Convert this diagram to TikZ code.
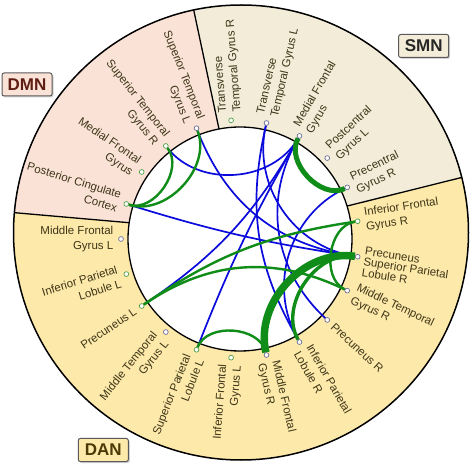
\documentclass[tikz,border=0pt]{standalone}
\usepackage{fontspec}
\setmainfont{Liberation Sans}
\usetikzlibrary{calc,shadows}
\definecolor{dmnfill}{RGB}{250,226,214}
\definecolor{smnfill}{RGB}{242,236,216}
\definecolor{danfill}{RGB}{253,233,170}
\definecolor{dmntext}{RGB}{95,30,20}
\definecolor{dantext}{RGB}{75,58,5}
\definecolor{linkblue}{RGB}{10,10,220}
\definecolor{linkgreen}{RGB}{16,140,24}
\definecolor{roitext}{RGB}{62,54,24}
\definecolor{roigreen}{RGB}{80,160,70}
\definecolor{roislate}{RGB}{110,110,150}
\pgfdeclarelayer{ring}
\pgfdeclarelayer{links}
\pgfsetlayers{ring,links,main}
\tikzset{%
  roi/.style={circle,draw=roigreen,fill=white,line width=0.7pt,inner sep=0pt,minimum size=4.8pt},
  roib/.style={roi,draw=roislate},
  lbl/.style={font=\fontsize{11.5}{14.5}\selectfont,text=roitext,inner sep=1pt},
  rlab/.style={rotate=#1,anchor=west,align=left},
  llab/.style={rotate=#1+180,anchor=east,align=right},
  net/.style={draw=black!65,line width=1pt,rounded corners=2pt,minimum width=50pt,minimum height=23pt,inner sep=0pt,
    font=\fontsize{17}{18}\selectfont\bfseries,drop shadow={shadow xshift=1.5pt,shadow yshift=-1.5pt,opacity=0.35}},
  link/.style={draw=linkblue,line width=1.7pt},
  bond/.style={draw=linkgreen,line width=2.4pt},
  bondw/.style={bond,line width=3.4pt},
  bondx/.style={bond,line width=5pt},
  bondxx/.style={bond,line width=7.5pt},
}

\begin{document}
\begin{tikzpicture}[x=1pt,y=1pt]
  \useasboundingbox (0,0) rectangle (474,466);
  \coordinate (o) at (241,233.5); % ring centre
  \coordinate (c) at (240,227);   % chord centre

  % network sectors
  \begin{pgfonlayer}{ring}
    \fill[dmnfill] (o) -- ++(102:227.5) arc[start angle=102,end angle=175,radius=227.5] -- cycle;
    \fill[smnfill] (o) -- ++(14:227.5) arc[start angle=14,end angle=102,radius=227.5] -- cycle;
    \fill[danfill] (o) -- ++(175:227.5) arc[start angle=175,end angle=374,radius=227.5] -- cycle;
    \foreach \b in {14,102,175} \draw[line width=1.3pt] (o) -- ++(\b:227.5);
    \draw[line width=1.5pt] (o) circle[radius=227.5];
    \draw[line width=1.3pt,fill=white] (c) circle[radius=112];
  \end{pgfonlayer}

  \node[net,fill=dmnfill,text=dmntext] (dmn) at (27,381.5) {DMN};
  \node[net,fill=smnfill,text=black!85] (smn) at (423.7,420) {SMN};
  \node[net,fill=danfill,text=dantext] (dan) at (103.3,16) {DAN};

  % regions
  \foreach \k/\s/\r/\t in {0/llab/roib/{Middle Frontal\\Gyrus L},
      1/llab/roi/{Posterior Cingulate\\Cortex}, 2/llab/roi/{Medial Frontal\\Gyrus},
      3/llab/roi/{Superior Temporal\\Gyrus R}, 4/llab/roib/{Superior Temporal\\Gyrus L},
      5/rlab/roi/{Transverse\\Temporal Gyrus R}, 6/rlab/roib/{Transverse\\Temporal Gyrus L},
      7/rlab/roib/{Medial Frontal\\Gyrus}, 8/rlab/roib/{Postcentral\\Gyrus L},
      9/rlab/roib/{Precentral\\Gyrus R}, 10/rlab/roi/{Inferior Frontal\\Gyrus R},
      12/rlab/roib/{Middle Temporal\\Gyrus R}, 13/rlab/roib/{Precuneus R},
      14/rlab/roib/{Inferior Parietal\\Lobule R}, 15/rlab/roib/{Middle Frontal\\Gyrus R},
      16/llab/roi/{Inferior Frontal\\Gyrus L}, 17/llab/roi/{Superior Parietal\\Lobule L},
      18/llab/roib/{Middle Temporal\\Gyrus L}, 19/llab/roi/{Precuneus L},
      20/llab/roi/{Inferior Parietal\\Lobule L}}{
    \pgfmathsetmacro\a{180-\k*360/21}
    \path (c) ++(\a:119) node[\r] (n\k) {};
    \path (c) ++(\a:125.5) node[lbl,\s=\a] (t\k) {\t};
  }
  \path (c) ++(-8.5714:119) node[roib] (n11) {};
  \path (c) ++(-8.5714:124.5) ++(81.43:12) node[lbl,rlab=-8.5714,anchor=north west,font=\fontsize{11.5}{11}\selectfont] (t11)
    {Precuneus\\Superior Parietal\\Lobule R};

  % connections
  \begin{pgfonlayer}{links}
    \foreach \i/\j/\e in {1/11/link, 3/7/link, 4/11/link, 6/11/link, 7/13/link, 7/17/link, 7/19/link,
        9/14/link, 6/14/link, 1/3/bond, 1/4/bond, 10/19/bond, 10/12/bond, 12/19/bond, 15/17/bond,
        11/14/bondw, 7/9/bondx, 11/15/bondxx}{
      \pgfmathsetmacro\p{360-\i*360/21}
      \pgfmathsetmacro\q{360-\j*360/21}
      \draw[\e] (n\i) to[out=\p,in=\q] (n\j);
    }
  \end{pgfonlayer}
\end{tikzpicture}
\end{document}
